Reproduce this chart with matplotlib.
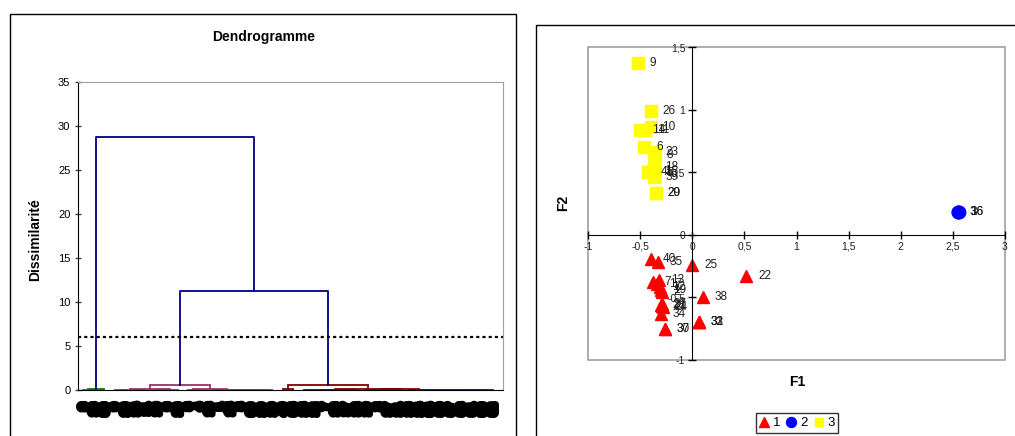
import matplotlib
matplotlib.use("Agg")
import matplotlib.pyplot as plt
from matplotlib.patches import Rectangle
from matplotlib.ticker import FuncFormatter, MultipleLocator
import matplotlib.patheffects as pe

plt.rcParams['font.family'] = ['Liberation Sans', 'DejaVu Sans']

# ---------------- Dendrogram data ----------------
# nested merges: (height, left, right); ints are leaf positions
green_tree = (0.06, (0.03, 0, 1), 2)
pink_tree = (0.60,
             (0.06, (0.04, (0.02, 3, 4), (0.02, 5, 6)), (0.03, (0.02, 7, 8), 9)),
             (0.12, (0.03, 10, 11),
              (0.05, (0.02, 12, 13), (0.04, 14, (0.03, 15, (0.02, 16, (0.01, 17, 18)))))))
red_tree = (0.60,
            (0.15, 19, 20),
            (0.12,
             (0.05, (0.03, (0.02, 21, 22), (0.02, 23, 24)), (0.02, 25, 26)),
             (0.08, (0.05, (0.03, 27, 28), (0.02, 29, 30)),
              (0.04, 31, (0.035, 32, (0.03, 33, (0.025, 34, (0.02, 35, (0.015, 36, (0.01, 37, (0.005, 38, 39)))))))))))
mid_height = 11.3
top_height = 28.8
truncation = 6.0
leaf_labels = [3, 16, 36,
               9, 26, 14, 11, 10, 6, 23, 8, 4, 18, 1, 15, 5, 39, 29, 20,
               40, 35, 25, 22, 7, 13, 17, 12, 19, 2, 27, 21, 28, 24, 34, 30, 37, 38, 31, 33, 32]

NAVY = '#000080'
GREEN = '#008000'
PINK = '#993366'
MAROON = '#800000'

# ---------------- Scatter data ----------------
c1_labels = [40, 35, 25, 22, 7, 13, 17, 12, 19, 2, 27, 21, 28, 24, 34, 30, 37, 38, 31, 33, 32]
c1_x = [-0.40, -0.33, 0.00, 0.52, -0.38, -0.32, -0.34, -0.31, -0.30, -0.29, -0.29, -0.29, -0.30, -0.28, -0.30, -0.26, -0.26, 0.10, 0.06, 0.06, 0.06]
c1_y = [-0.19, -0.22, -0.24, -0.33, -0.38, -0.36, -0.39, -0.42, -0.44, -0.46, -0.55, -0.57, -0.56, -0.58, -0.63, -0.75, -0.75, -0.50, -0.70, -0.70, -0.70]

c2_labels = [3, 16, 36]
c2_x = [2.55, 2.55, 2.56]
c2_y = [0.18, 0.18, 0.18]

c3_labels = [9, 26, 14, 11, 10, 6, 23, 8, 4, 18, 15, 5, 1, 39, 29, 20]
c3_x = [-0.52, -0.40, -0.50, -0.45, -0.40, -0.46, -0.37, -0.36, -0.42, -0.37, -0.37, -0.36, -0.38, -0.37, -0.35, -0.35]
c3_y = [1.37, 0.99, 0.84, 0.84, 0.86, 0.70, 0.66, 0.64, 0.50, 0.54, 0.50, 0.49, 0.51, 0.46, 0.33, 0.33]

x_ticks = [-1, -0.5, 0, 0.5, 1, 1.5, 2, 2.5, 3]
y_ticks = [-1, -0.5, 0, 0.5, 1, 1.5]

W, H = 1015, 436
fig = plt.figure(figsize=(W / 100, H / 100), dpi=100)

# panel frames
fig.add_artist(Rectangle((9.5 / W, -0.1), (516 - 9.5) / W, 1.1 - 14 / H, transform=fig.transFigure,
                         fill=False, edgecolor='black', linewidth=1.0))
fig.add_artist(Rectangle((536 / W, -0.1), 0.5, 1.1 - 25 / H, transform=fig.transFigure,
                         fill=False, edgecolor='black', linewidth=1.0))

# ---------------- Dendrogram ----------------
ax1 = fig.add_axes([78 / W, 1 - 390 / H, 425 / W, 308 / H])


def draw(node, ax, color):
    if isinstance(node, int):
        return float(node), 0.0
    h, l, r = node
    xl, hl = draw(l, ax, color)
    xr, hr = draw(r, ax, color)
    ax.plot([xl, xl, xr, xr], [hl, h, h, hr], color=color, lw=1.3, solid_joinstyle='miter')
    return (xl + xr) / 2, h


def draw_link(ax, a, b, h, color):
    xa, ha = a
    xb, hb = b
    ax.plot([xa, xa, xb, xb], [ha, h, h, hb], color=color, lw=1.3)
    return (xa + xb) / 2, h


g = draw(green_tree, ax1, GREEN)
p = draw(pink_tree, ax1, PINK)
r = draw(red_tree, ax1, MAROON)
m = draw_link(ax1, p, r, mid_height, NAVY)
draw_link(ax1, g, m, top_height, NAVY)
ax1.axhline(truncation, color='black', lw=1.6, linestyle=(0, (1.4, 1.4)))

ax1.set_xlim(-0.5, 40.0)
ax1.set_ylim(0, 35)
ax1.yaxis.set_major_locator(MultipleLocator(5))
ax1.tick_params(axis='y', direction='inout', length=5, width=1, color='#404040', labelsize=8, pad=3)
ax1.set_xticks(range(len(leaf_labels)))
ax1.set_xticklabels([str(v) for v in leaf_labels], rotation=90, fontsize=7, fontweight='bold', va='top')
for t in ax1.get_xticklabels():
    t.set_path_effects([pe.withStroke(linewidth=5, foreground='black')])
ax1.tick_params(axis='x', length=0, pad=10)
for s in ['top', 'right']:
    ax1.spines[s].set_color('#a0a0a0')
for s in ['left', 'bottom']:
    ax1.spines[s].set_color('black')

fig.text(264 / W, 1 - 37 / H, 'Dendrogramme', ha='center', va='center', fontsize=10, fontweight='bold')
fig.text(35 / W, 1 - 240 / H, 'Dissimilarité', ha='center', va='center', rotation=90,
         fontsize=10, fontweight='bold')

# ---------------- Scatter ----------------
ax2 = fig.add_axes([588 / W, 1 - 360 / H, 417 / W, 313 / H])
ax2.set_xlim(-1, 3)
ax2.set_ylim(-1, 1.5)

h1, = ax2.plot(c1_x, c1_y, linestyle='none', marker='^', ms=9, color='#ff0000', label='1')
h2, = ax2.plot(c2_x, c2_y, linestyle='none', marker='o', ms=9, color='#0000ff', label='2')
h3, = ax2.plot(c3_x, c3_y, linestyle='none', marker='s', ms=8, color='#ffff00', label='3')

for labs, xs, ys in [(c1_labels, c1_x, c1_y), (c2_labels, c2_x, c2_y), (c3_labels, c3_x, c3_y)]:
    for lab, xv, yv in zip(labs, xs, ys):
        ax2.annotate(str(lab), (xv, yv), xytext=(8.5, 0), textcoords='offset points',
                     fontsize=8.5, ha='left', va='center', color='#202020')

ax2.spines['left'].set_position(('data', 0))
ax2.spines['bottom'].set_position(('data', 0))
ax2.spines['top'].set_visible(False)
ax2.spines['right'].set_visible(False)
ax2.add_patch(Rectangle((0, 0), 1, 1, transform=ax2.transAxes, fill=False,
                        edgecolor='#a0a0a0', linewidth=1.2, clip_on=False, zorder=0))
ax2.set_xticks(x_ticks)
ax2.set_yticks(y_ticks)
fmt = FuncFormatter(lambda v, pos: f"{v:g}".replace('.', ','))
ax2.xaxis.set_major_formatter(fmt)
ax2.yaxis.set_major_formatter(fmt)
ax2.tick_params(direction='inout', length=6, width=1, labelsize=7.5, pad=2, labelcolor='#202020')

fig.text(563 / W, 1 - 203 / H, 'F2', ha='center', va='center', rotation=90, fontsize=10, fontweight='bold')
fig.text(797 / W, 1 - 382 / H, 'F1', ha='center', va='center', fontsize=10, fontweight='bold')

leg = fig.legend(handles=[h1, h2, h3], loc='upper center', bbox_to_anchor=(797 / W, 1 - 413 / H),
                 ncol=3, frameon=True, fancybox=False, edgecolor='black', fontsize=9.5,
                 handlelength=0.7, handletextpad=0.3, columnspacing=0.5, borderpad=0.3,
                 borderaxespad=0, markerscale=0.8)
leg.get_frame().set_linewidth(1.0)

fig.savefig('out.png', dpi=100)
